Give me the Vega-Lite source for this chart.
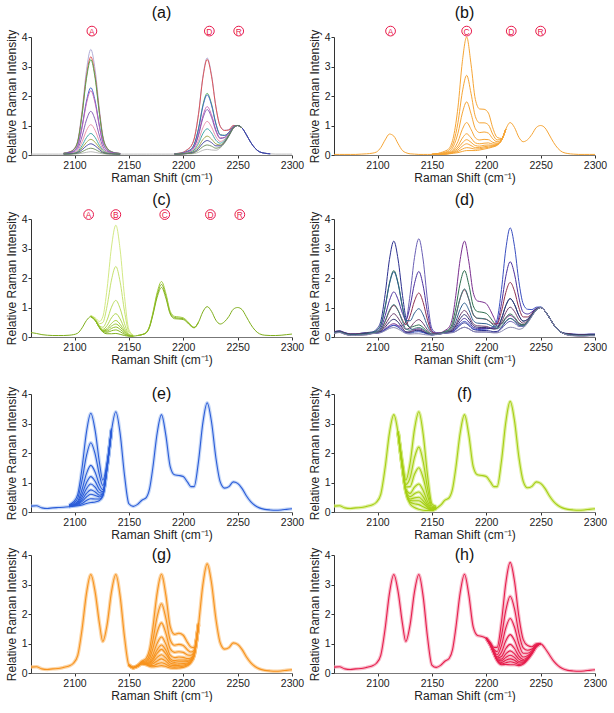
{
"$schema": "https://vega.github.io/schema/vega-lite/v6.json",
"padding": {"left": 5, "top": 5, "right": 2, "bottom": 0},
"background": "white",
"config": {
 "font": "Liberation Sans",
 "view": {"stroke": null},
 "title": {"fontSize": 16, "fontWeight": "normal", "color": "#111", "font": "Liberation Sans"},
 "axis": {"grid": false, "labelFontSize": 10.5, "titleFontSize": 12, "titleFontWeight": "normal", "labelColor": "#222", "titleColor": "#222", "domainColor": "#333", "tickColor": "#333", "tickSize": 3, "labelPadding": 1, "labelFont": "Liberation Sans", "titleFont": "Liberation Sans"},
 "axisX": {"titlePadding": 2, "labelPadding": 2, "labelFlush": false, "domainColor": "#777"},
 "axisY": {"titlePadding": 3}
},
"datasets": {
 "a": [
  {"x":2060,"a0":0.03},{"x":2065,"a0":0.03},{"x":2070,"a0":0.03},{"x":2075,"a0":0.03},{"x":2080,"a0":0.03},{"x":2085,"a0":0.03},
  {"x":2090,"a0":0.03,"a1":0.07,"a2":0.06,"a3":0.06,"a4":0.05,"a5":0.05,"a6":0.04,"a7":0.04,"a8":0.04,"a9":0.04,"a10":0.03,"a11":0.03},
  {"x":2095,"a0":0.03,"a1":0.10,"a2":0.10,"a3":0.09,"a4":0.08,"a5":0.07,"a6":0.06,"a7":0.05,"a8":0.04,"a9":0.04,"a10":0.04,"a11":0.03},
  {"x":2099,"a0":0.03,"a1":0.19,"a2":0.18,"a3":0.17,"a4":0.13,"a5":0.13,"a6":0.10,"a7":0.08,"a8":0.06,"a9":0.05,"a10":0.05,"a11":0.04},
  {"x":2103,"a0":0.04,"a1":0.49,"a2":0.46,"a3":0.45,"a4":0.32,"a5":0.31,"a6":0.22,"a7":0.16,"a8":0.12,"a9":0.10,"a10":0.08,"a11":0.06},
  {"x":2107,"a0":0.06,"a1":1.52,"a2":1.42,"a3":1.37,"a4":0.98,"a5":0.93,"a6":0.64,"a7":0.45,"a8":0.32,"a9":0.24,"a10":0.18,"a11":0.11},
  {"x":2111,"a0":0.09,"a1":2.87,"a2":2.67,"a3":2.59,"a4":1.83,"a5":1.75,"a6":1.19,"a7":0.83,"a8":0.59,"a9":0.43,"a10":0.31,"a11":0.19},
  {"x":2115,"a0":0.11,"a1":3.58,"a2":3.33,"a3":3.23,"a4":2.28,"a5":2.18,"a6":1.48,"a7":1.03,"a8":0.73,"a9":0.53,"a10":0.38,"a11":0.23},
  {"x":2119,"a0":0.09,"a1":2.87,"a2":2.67,"a3":2.59,"a4":1.83,"a5":1.75,"a6":1.19,"a7":0.83,"a8":0.59,"a9":0.43,"a10":0.31,"a11":0.19},
  {"x":2123,"a0":0.06,"a1":1.52,"a2":1.42,"a3":1.37,"a4":0.98,"a5":0.93,"a6":0.64,"a7":0.45,"a8":0.32,"a9":0.24,"a10":0.18,"a11":0.11},
  {"x":2126,"a0":0.04,"a1":0.67,"a2":0.62,"a3":0.61,"a4":0.44,"a5":0.42,"a6":0.29,"a7":0.21,"a8":0.16,"a9":0.12,"a10":0.09,"a11":0.07},
  {"x":2130,"a0":0.03,"a1":0.24,"a2":0.23,"a3":0.22,"a4":0.17,"a5":0.16,"a6":0.12,"a7":0.09,"a8":0.07,"a9":0.06,"a10":0.05,"a11":0.04},
  {"x":2134,"a0":0.03,"a1":0.12,"a2":0.11,"a3":0.11,"a4":0.09,"a5":0.08,"a6":0.07,"a7":0.06,"a8":0.05,"a9":0.04,"a10":0.04,"a11":0.04},
  {"x":2138,"a0":0.03,"a1":0.07,"a2":0.07,"a3":0.07,"a4":0.06,"a5":0.06,"a6":0.05,"a7":0.04,"a8":0.04,"a9":0.04,"a10":0.03,"a11":0.03},
  {"x":2142,"a0":0.03,"a1":0.05,"a2":0.05,"a3":0.05,"a4":0.05,"a5":0.05,"a6":0.04,"a7":0.04,"a8":0.03,"a9":0.03,"a10":0.03,"a11":0.03},
  {"x":2146,"a0":0.03},{"x":2150,"a0":0.03},{"x":2154,"a0":0.03},{"x":2158,"a0":0.03},{"x":2162,"a0":0.03},{"x":2166,"a0":0.03},{"x":2169,"a0":0.03},{"x":2172,"a0":0.03},{"x":2176,"a0":0.03},{"x":2180,"a0":0.03},{"x":2184,"a0":0.03},{"x":2188,"a0":0.03},
  {"x":2192,"a0":0.03,"a1":0.04,"a2":0.04,"a3":0.04,"a4":0.04,"a5":0.04,"a6":0.03,"a7":0.03,"a8":0.03,"a9":0.03,"a10":0.03,"a11":0.03},
  {"x":2196,"a0":0.03,"a1":0.06,"a2":0.06,"a3":0.05,"a4":0.05,"a5":0.04,"a6":0.04,"a7":0.04,"a8":0.04,"a9":0.03,"a10":0.03,"a11":0.03},
  {"x":2200,"a0":0.03,"a1":0.10,"a2":0.09,"a3":0.07,"a4":0.07,"a5":0.06,"a6":0.06,"a7":0.05,"a8":0.05,"a9":0.04,"a10":0.04,"a11":0.04},
  {"x":2204,"a0":0.04,"a1":0.19,"a2":0.19,"a3":0.13,"a4":0.13,"a5":0.11,"a6":0.11,"a7":0.09,"a8":0.07,"a9":0.06,"a10":0.05,"a11":0.05},
  {"x":2207,"a0":0.04,"a1":0.29,"a2":0.29,"a3":0.19,"a4":0.19,"a5":0.16,"a6":0.15,"a7":0.12,"a8":0.10,"a9":0.08,"a10":0.07,"a11":0.05},
  {"x":2210,"a0":0.05,"a1":0.55,"a2":0.54,"a3":0.36,"a4":0.35,"a5":0.29,"a6":0.27,"a7":0.21,"a8":0.17,"a9":0.13,"a10":0.10,"a11":0.08},
  {"x":2214,"a0":0.09,"a1":1.40,"a2":1.37,"a3":0.89,"a4":0.87,"a5":0.70,"a6":0.66,"a7":0.49,"a8":0.39,"a9":0.28,"a10":0.22,"a11":0.16},
  {"x":2218,"a0":0.16,"a1":2.64,"a2":2.60,"a3":1.68,"a4":1.64,"a5":1.32,"a6":1.24,"a7":0.92,"a8":0.72,"a9":0.52,"a10":0.40,"a11":0.28},
  {"x":2222,"a0":0.19,"a1":3.29,"a2":3.24,"a3":2.09,"a4":2.04,"a5":1.64,"a6":1.54,"a7":1.14,"a8":0.89,"a9":0.64,"a10":0.49,"a11":0.34},
  {"x":2226,"a0":0.17,"a1":2.72,"a2":2.67,"a3":1.73,"a4":1.69,"a5":1.36,"a6":1.28,"a7":0.95,"a8":0.75,"a9":0.54,"a10":0.42,"a11":0.30},
  {"x":2230,"a0":0.16,"a1":1.65,"a2":1.63,"a3":1.07,"a4":1.05,"a5":0.86,"a6":0.81,"a7":0.62,"a8":0.50,"a9":0.38,"a10":0.31,"a11":0.23},
  {"x":2234,"a0":0.24,"a1":0.98,"a2":0.97,"a3":0.69,"a4":0.68,"a5":0.58,"a6":0.56,"a7":0.46,"a8":0.40,"a9":0.34,"a10":0.31,"a11":0.27},
  {"x":2238,"a0":0.40,"a1":0.84,"a2":0.83,"a3":0.67,"a4":0.66,"a5":0.60,"a6":0.59,"a7":0.53,"a8":0.50,"a9":0.46,"a10":0.44,"a11":0.42},
  {"x":2242,"a0":0.64,"a1":0.86,"a2":0.85,"a3":0.77,"a4":0.77,"a5":0.74,"a6":0.74,"a7":0.71,"a8":0.69,"a9":0.67,"a10":0.66,"a11":0.65},
  {"x":2246,"a0":0.90,"a1":1.0,"a2":1.0,"a3":0.96,"a4":0.96,"a5":0.95,"a6":0.95,"a7":0.93,"a8":0.93,"a9":0.92,"a10":0.91,"a11":0.91},
  {"x":2250,"a0":1.0,"a1":1.0,"a2":1.0,"a3":1.0,"a4":1.0,"a5":1.0,"a6":1.0,"a7":1.0,"a8":1.0,"a9":1.0,"a10":1.0,"a11":1.0},
  {"x":2254,"a0":0.92,"a1":0.92,"a2":0.92,"a3":0.92,"a4":0.92,"a5":0.92,"a6":0.92,"a7":0.92,"a8":0.92,"a9":0.92,"a10":0.92,"a11":0.92},
  {"x":2258,"a0":0.69,"a1":0.69,"a4":0.69,"a10":0.69},{"x":2262,"a0":0.43,"a1":0.43,"a4":0.43,"a10":0.43},{"x":2266,"a0":0.23,"a1":0.23,"a4":0.23,"a10":0.23},{"x":2270,"a0":0.11,"a1":0.11,"a4":0.11,"a10":0.11},{"x":2275,"a0":0.06,"a1":0.06,"a4":0.06,"a10":0.06},{"x":2280,"a0":0.04,"a1":0.04,"a4":0.04,"a10":0.04},{"x":2285,"a0":0.03},{"x":2290,"a0":0.03},{"x":2295,"a0":0.03},{"x":2300,"a0":0.03}
 ],
 "b": [
  {"x":2060,"b0":0.02},{"x":2065,"b0":0.02},{"x":2070,"b0":0.02},{"x":2075,"b0":0.02},{"x":2080,"b0":0.02},{"x":2085,"b0":0.03},{"x":2090,"b0":0.04},{"x":2095,"b0":0.06},{"x":2099,"b0":0.10},{"x":2103,"b0":0.25},{"x":2107,"b0":0.51},{"x":2111,"b0":0.71},{"x":2115,"b0":0.64},{"x":2119,"b0":0.38},{"x":2123,"b0":0.15},{"x":2126,"b0":0.08},{"x":2130,"b0":0.04},{"x":2134,"b0":0.03},{"x":2138,"b0":0.02},{"x":2142,"b0":0.02},{"x":2146,"b0":0.02},
  {"x":2150,"b0":0.02,"b1":0.03,"b2":0.02,"b3":0.02,"b4":0.02,"b5":0.02,"b6":0.02,"b7":0.02,"b8":0.02},
  {"x":2154,"b0":0.02,"b1":0.04,"b2":0.04,"b3":0.03,"b4":0.03,"b5":0.02,"b6":0.02,"b7":0.02,"b8":0.02},
  {"x":2158,"b0":0.03,"b1":0.08,"b2":0.06,"b3":0.05,"b4":0.04,"b5":0.04,"b6":0.03,"b7":0.03,"b8":0.03},
  {"x":2162,"b0":0.03,"b1":0.13,"b2":0.09,"b3":0.07,"b4":0.05,"b5":0.04,"b6":0.04,"b7":0.04,"b8":0.03},
  {"x":2166,"b0":0.04,"b1":0.23,"b2":0.17,"b3":0.12,"b4":0.09,"b5":0.07,"b6":0.06,"b7":0.05,"b8":0.05},
  {"x":2170,"b0":0.06,"b1":0.64,"b2":0.44,"b3":0.31,"b4":0.20,"b5":0.15,"b6":0.12,"b7":0.09,"b8":0.08},
  {"x":2174,"b0":0.08,"b1":1.62,"b2":1.10,"b3":0.74,"b4":0.46,"b5":0.31,"b6":0.23,"b7":0.17,"b8":0.12},
  {"x":2178,"b0":0.12,"b1":3.16,"b2":2.13,"b3":1.42,"b4":0.87,"b5":0.57,"b6":0.41,"b7":0.30,"b8":0.20},
  {"x":2182,"b0":0.15,"b1":4.0,"b2":2.7,"b3":1.8,"b4":1.1,"b5":0.72,"b6":0.52,"b7":0.38,"b8":0.25},
  {"x":2186,"b0":0.15,"b1":3.08,"b2":2.09,"b3":1.40,"b4":0.87,"b5":0.58,"b6":0.43,"b7":0.32,"b8":0.23},
  {"x":2190,"b0":0.15,"b1":1.88,"b2":1.30,"b3":0.89,"b4":0.58,"b5":0.41,"b6":0.32,"b7":0.25,"b8":0.20},
  {"x":2194,"b0":0.17,"b1":1.56,"b2":1.09,"b3":0.76,"b4":0.51,"b5":0.38,"b6":0.30,"b7":0.25,"b8":0.21},
  {"x":2198,"b0":0.20,"b1":1.55,"b2":1.09,"b3":0.78,"b4":0.53,"b5":0.40,"b6":0.33,"b7":0.28,"b8":0.24},
  {"x":2202,"b0":0.23,"b1":1.42,"b2":1.02,"b3":0.74,"b4":0.52,"b5":0.41,"b6":0.34,"b7":0.30,"b8":0.26},
  {"x":2206,"b0":0.27,"b1":0.92,"b2":0.70,"b3":0.55,"b4":0.43,"b5":0.37,"b6":0.33,"b7":0.31,"b8":0.29},
  {"x":2210,"b0":0.33,"b1":0.60,"b2":0.51,"b3":0.45,"b4":0.40,"b5":0.37,"b6":0.36,"b7":0.35,"b8":0.34},
  {"x":2214,"b0":0.50,"b1":0.56,"b2":0.54,"b3":0.52,"b4":0.51,"b5":0.50,"b6":0.50,"b7":0.50,"b8":0.50},
  {"x":2218,"b0":0.88,"b1":0.88,"b2":0.88,"b3":0.88,"b4":0.88,"b5":0.88,"b6":0.88,"b7":0.88,"b8":0.88},
  {"x":2222,"b0":1.10},{"x":2226,"b0":0.93},{"x":2230,"b0":0.60},{"x":2234,"b0":0.45},{"x":2238,"b0":0.52},{"x":2242,"b0":0.70},{"x":2246,"b0":0.93},{"x":2250,"b0":1.0},{"x":2254,"b0":0.92},{"x":2258,"b0":0.68},{"x":2262,"b0":0.42},{"x":2266,"b0":0.22},{"x":2270,"b0":0.10},{"x":2275,"b0":0.05},{"x":2280,"b0":0.03},{"x":2285,"b0":0.02},{"x":2290,"b0":0.02},{"x":2295,"b0":0.02},{"x":2300,"b0":0.02}
 ],
 "c": [
  {"x":2060,"c0":0.15},{"x":2065,"c0":0.12},{"x":2070,"c0":0.08},{"x":2075,"c0":0.06},{"x":2080,"c0":0.05},{"x":2085,"c0":0.05},{"x":2090,"c0":0.05},{"x":2095,"c0":0.06},{"x":2099,"c0":0.08},{"x":2103,"c0":0.13},{"x":2107,"c0":0.31},{"x":2111,"c0":0.56},
  {"x":2115,"c0":0.69,"c1":0.73,"c2":0.72,"c3":0.70,"c4":0.70,"c5":0.70,"c6":0.69,"c7":0.69,"c8":0.69},
  {"x":2119,"c0":0.56,"c1":0.65,"c2":0.62,"c3":0.59,"c4":0.58,"c5":0.57,"c6":0.57,"c7":0.57,"c8":0.56},
  {"x":2123,"c0":0.31,"c1":0.53,"c2":0.45,"c3":0.38,"c4":0.35,"c5":0.34,"c6":0.33,"c7":0.32,"c8":0.32},
  {"x":2126,"c0":0.17,"c1":0.68,"c2":0.49,"c3":0.33,"c4":0.26,"c5":0.23,"c6":0.21,"c7":0.20,"c8":0.19},
  {"x":2130,"c0":0.11,"c1":1.65,"c2":1.06,"c3":0.58,"c4":0.39,"c5":0.29,"c6":0.24,"c7":0.20,"c8":0.16},
  {"x":2134,"c0":0.11,"c1":3.05,"c2":1.93,"c3":1.01,"c4":0.65,"c5":0.46,"c6":0.37,"c7":0.29,"c8":0.21},
  {"x":2138,"c0":0.12,"c1":3.79,"c2":2.39,"c3":1.24,"c4":0.79,"c5":0.56,"c6":0.44,"c7":0.34,"c8":0.24},
  {"x":2142,"c0":0.09,"c1":2.95,"c2":1.86,"c3":0.96,"c4":0.61,"c5":0.43,"c6":0.34,"c7":0.26,"c8":0.18},
  {"x":2146,"c0":0.05,"c1":1.37,"c2":0.87,"c3":0.45,"c4":0.29,"c5":0.21,"c6":0.17,"c7":0.13,"c8":0.09},
  {"x":2150,"c0":0.03,"c1":0.25,"c2":0.17,"c3":0.10,"c4":0.07,"c5":0.06,"c6":0.05,"c7":0.04,"c8":0.04},
  {"x":2154,"c0":0.03,"c1":0.07,"c2":0.05,"c3":0.04,"c4":0.03,"c5":0.03,"c6":0.03,"c7":0.03,"c8":0.03},
  {"x":2158,"c0":0.05,"c9":0.05,"c10":0.05},
  {"x":2162,"c0":0.08,"c9":0.08,"c10":0.08},
  {"x":2166,"c0":0.15,"c9":0.16,"c10":0.14},
  {"x":2169,"c0":0.35,"c9":0.37,"c10":0.33},
  {"x":2172,"c0":0.77,"c9":0.81,"c10":0.73},
  {"x":2176,"c0":1.43,"c9":1.51,"c10":1.35},
  {"x":2180,"c0":1.78,"c9":1.88,"c10":1.68},
  {"x":2184,"c0":1.40,"c9":1.48,"c10":1.32},
  {"x":2188,"c0":0.82,"c9":0.87,"c10":0.78},
  {"x":2192,"c0":0.66,"c9":0.70,"c10":0.62},
  {"x":2196,"c0":0.64,"c9":0.68,"c10":0.61},
  {"x":2200,"c0":0.62,"c9":0.65,"c10":0.59},
  {"x":2204,"c0":0.50,"c9":0.53,"c10":0.48},
  {"x":2207,"c0":0.39,"c9":0.41,"c10":0.37},
  {"x":2210,"c0":0.32,"c9":0.33,"c10":0.31},
  {"x":2214,"c0":0.50,"c9":0.50,"c10":0.50},
  {"x":2218,"c0":0.85},{"x":2222,"c0":1.03},{"x":2226,"c0":0.87},{"x":2230,"c0":0.57},{"x":2234,"c0":0.44},{"x":2238,"c0":0.52},{"x":2242,"c0":0.70},{"x":2246,"c0":0.94},{"x":2250,"c0":1.0},{"x":2254,"c0":0.93},{"x":2258,"c0":0.69},{"x":2262,"c0":0.43},{"x":2266,"c0":0.23},{"x":2270,"c0":0.11},{"x":2275,"c0":0.06},{"x":2280,"c0":0.05},{"x":2285,"c0":0.05},{"x":2290,"c0":0.06},{"x":2295,"c0":0.08},{"x":2300,"c0":0.10}
 ],
 "d": [
  {"x":2060,"d1":0.17,"d2":0.15,"d3":0.13,"d4":0.18,"d5":0.16,"d6":0.14,"d7":0.17,"d8":0.15,"d9":0.13,"d10":0.16,"d11":0.14,"d12":0.12},
  {"x":2065,"d1":0.20,"d2":0.18,"d3":0.16,"d4":0.21,"d5":0.19,"d6":0.17,"d7":0.20,"d8":0.18,"d9":0.16,"d10":0.19,"d11":0.17,"d12":0.15},
  {"x":2070,"d1":0.14,"d2":0.12,"d3":0.10,"d4":0.15,"d5":0.13,"d6":0.11,"d7":0.14,"d8":0.12,"d9":0.10,"d10":0.13,"d11":0.11,"d12":0.09},
  {"x":2075,"d1":0.10,"d2":0.08,"d3":0.06,"d4":0.11,"d5":0.09,"d6":0.07,"d7":0.10,"d8":0.08,"d9":0.06,"d10":0.09,"d11":0.07,"d12":0.05},
  {"x":2080,"d1":0.10,"d2":0.08,"d3":0.06,"d4":0.11,"d5":0.09,"d6":0.07,"d7":0.10,"d8":0.08,"d9":0.06,"d10":0.09,"d11":0.07,"d12":0.05},
  {"x":2085,"d1":0.13,"d2":0.09,"d3":0.07,"d4":0.12,"d5":0.11,"d6":0.09,"d7":0.12,"d8":0.10,"d9":0.07,"d10":0.10,"d11":0.08,"d12":0.06},
  {"x":2090,"d1":0.15,"d2":0.10,"d3":0.08,"d4":0.13,"d5":0.13,"d6":0.10,"d7":0.13,"d8":0.12,"d9":0.09,"d10":0.12,"d11":0.10,"d12":0.07},
  {"x":2095,"d1":0.17,"d2":0.12,"d3":0.12,"d4":0.12,"d5":0.15,"d6":0.14,"d7":0.13,"d8":0.15,"d9":0.12,"d10":0.12,"d11":0.13,"d12":0.11},
  {"x":2099,"d1":0.26,"d2":0.13,"d3":0.14,"d4":0.13,"d5":0.22,"d6":0.18,"d7":0.16,"d8":0.21,"d9":0.15,"d10":0.14,"d11":0.17,"d12":0.13},
  {"x":2103,"d1":0.53,"d2":0.15,"d3":0.17,"d4":0.16,"d5":0.40,"d6":0.30,"d7":0.24,"d8":0.39,"d9":0.21,"d10":0.19,"d11":0.25,"d12":0.15},
  {"x":2107,"d1":1.44,"d2":0.24,"d3":0.27,"d4":0.25,"d5":1.02,"d6":0.72,"d7":0.52,"d8":1.00,"d9":0.41,"d10":0.33,"d11":0.54,"d12":0.21},
  {"x":2111,"d1":2.63,"d2":0.33,"d3":0.39,"d4":0.35,"d5":1.83,"d6":1.24,"d7":0.88,"d8":1.80,"d9":0.65,"d10":0.51,"d11":0.91,"d12":0.29},
  {"x":2115,"d1":3.25,"d2":0.39,"d3":0.45,"d4":0.40,"d5":2.25,"d6":1.53,"d7":1.07,"d8":2.21,"d9":0.79,"d10":0.60,"d11":1.10,"d12":0.32},
  {"x":2119,"d1":2.61,"d2":0.37,"d3":0.38,"d4":0.33,"d5":1.82,"d6":1.26,"d7":0.89,"d8":1.79,"d9":0.64,"d10":0.50,"d11":0.90,"d12":0.27},
  {"x":2123,"d1":1.41,"d2":0.38,"d3":0.24,"d4":0.22,"d5":1.00,"d6":0.80,"d7":0.57,"d8":1.01,"d9":0.40,"d10":0.30,"d11":0.52,"d12":0.18},
  {"x":2126,"d1":0.66,"d2":0.51,"d3":0.16,"d4":0.14,"d5":0.50,"d6":0.58,"d7":0.42,"d8":0.56,"d9":0.26,"d10":0.18,"d11":0.28,"d12":0.12},
  {"x":2130,"d1":0.30,"d2":1.45,"d3":0.18,"d4":0.13,"d5":0.33,"d6":1.05,"d7":0.72,"d8":0.55,"d9":0.32,"d10":0.16,"d11":0.23,"d12":0.10},
  {"x":2134,"d1":0.24,"d2":2.69,"d3":0.25,"d4":0.17,"d5":0.37,"d6":1.81,"d7":1.22,"d8":0.81,"d9":0.50,"d10":0.21,"d11":0.29,"d12":0.11},
  {"x":2138,"d1":0.22,"d2":3.33,"d3":0.28,"d4":0.18,"d5":0.41,"d6":2.22,"d7":1.49,"d8":0.96,"d9":0.59,"d10":0.24,"d11":0.32,"d12":0.11},
  {"x":2142,"d1":0.17,"d2":2.61,"d3":0.23,"d4":0.15,"d5":0.32,"d6":1.73,"d7":1.17,"d8":0.75,"d9":0.46,"d10":0.19,"d11":0.26,"d12":0.09},
  {"x":2146,"d1":0.11,"d2":1.23,"d3":0.14,"d4":0.10,"d5":0.18,"d6":0.83,"d7":0.57,"d8":0.37,"d9":0.24,"d10":0.12,"d11":0.15,"d12":0.07},
  {"x":2150,"d1":0.07,"d2":0.29,"d3":0.09,"d4":0.07,"d5":0.09,"d6":0.21,"d7":0.17,"d8":0.13,"d9":0.10,"d10":0.08,"d11":0.09,"d12":0.07},
  {"x":2154,"d1":0.09,"d2":0.15,"d3":0.10,"d4":0.09,"d5":0.10,"d6":0.13,"d7":0.12,"d8":0.10,"d9":0.10,"d10":0.09,"d11":0.09,"d12":0.08},
  {"x":2158,"d1":0.11,"d2":0.14,"d3":0.14,"d4":0.11,"d5":0.13,"d6":0.13,"d7":0.13,"d8":0.12,"d9":0.11,"d10":0.11,"d11":0.12,"d12":0.10},
  {"x":2162,"d1":0.13,"d2":0.13,"d3":0.22,"d4":0.13,"d5":0.19,"d6":0.14,"d7":0.17,"d8":0.15,"d9":0.15,"d10":0.14,"d11":0.17,"d12":0.13},
  {"x":2166,"d1":0.15,"d2":0.14,"d3":0.34,"d4":0.15,"d5":0.27,"d6":0.16,"d7":0.23,"d8":0.20,"d9":0.18,"d10":0.17,"d11":0.23,"d12":0.14},
  {"x":2169,"d1":0.17,"d2":0.15,"d3":0.67,"d4":0.18,"d5":0.49,"d6":0.20,"d7":0.37,"d8":0.29,"d9":0.25,"d10":0.22,"d11":0.38,"d12":0.15},
  {"x":2172,"d1":0.25,"d2":0.19,"d3":1.41,"d4":0.27,"d5":0.99,"d6":0.31,"d7":0.72,"d8":0.53,"d9":0.42,"d10":0.37,"d11":0.73,"d12":0.19},
  {"x":2176,"d1":0.40,"d2":0.28,"d3":2.62,"d4":0.44,"d5":1.82,"d6":0.52,"d7":1.30,"d8":0.94,"d9":0.74,"d10":0.62,"d11":1.32,"d12":0.28},
  {"x":2180,"d1":0.48,"d2":0.33,"d3":3.25,"d4":0.53,"d5":2.25,"d6":0.63,"d7":1.60,"d8":1.15,"d9":0.90,"d10":0.76,"d11":1.63,"d12":0.33},
  {"x":2184,"d1":0.39,"d2":0.28,"d3":2.55,"d4":0.43,"d5":1.77,"d6":0.51,"d7":1.27,"d8":0.92,"d9":0.72,"d10":0.61,"d11":1.29,"d12":0.28},
  {"x":2188,"d1":0.26,"d2":0.19,"d3":1.51,"d4":0.28,"d5":1.06,"d6":0.33,"d7":0.76,"d8":0.56,"d9":0.45,"d10":0.39,"d11":0.78,"d12":0.19},
  {"x":2192,"d1":0.23,"d2":0.17,"d3":1.22,"d4":0.25,"d5":0.86,"d6":0.29,"d7":0.63,"d8":0.47,"d9":0.38,"d10":0.33,"d11":0.64,"d12":0.17},
  {"x":2196,"d1":0.22,"d2":0.17,"d3":1.19,"d4":0.26,"d5":0.84,"d6":0.29,"d7":0.62,"d8":0.46,"d9":0.37,"d10":0.32,"d11":0.63,"d12":0.17},
  {"x":2200,"d1":0.22,"d2":0.17,"d3":1.13,"d4":0.27,"d5":0.80,"d6":0.29,"d7":0.60,"d8":0.45,"d9":0.36,"d10":0.32,"d11":0.60,"d12":0.17},
  {"x":2204,"d1":0.20,"d2":0.16,"d3":0.89,"d4":0.30,"d5":0.64,"d6":0.29,"d7":0.51,"d8":0.39,"d9":0.31,"d10":0.29,"d11":0.49,"d12":0.15},
  {"x":2207,"d1":0.18,"d2":0.15,"d3":0.66,"d4":0.37,"d5":0.49,"d6":0.32,"d7":0.44,"d8":0.34,"d9":0.28,"d10":0.27,"d11":0.38,"d12":0.14},
  {"x":2210,"d1":0.19,"d2":0.16,"d3":0.45,"d4":0.59,"d5":0.37,"d6":0.45,"d7":0.45,"d8":0.34,"d9":0.28,"d10":0.30,"d11":0.29,"d12":0.14},
  {"x":2214,"d1":0.32,"d2":0.28,"d3":0.45,"d4":1.61,"d5":0.44,"d6":1.13,"d7":0.87,"d8":0.62,"d9":0.50,"d10":0.61,"d11":0.36,"d12":0.19},
  {"x":2218,"d1":0.52,"d2":0.44,"d3":0.63,"d4":2.98,"d5":0.66,"d6":2.06,"d7":1.51,"d8":1.07,"d9":0.83,"d10":1.06,"d11":0.54,"d12":0.28},
  {"x":2222,"d1":0.63,"d2":0.53,"d3":0.73,"d4":3.70,"d5":0.78,"d6":2.55,"d7":1.85,"d8":1.30,"d9":1.01,"d10":1.30,"d11":0.63,"d12":0.33},
  {"x":2226,"d1":0.55,"d2":0.47,"d3":0.63,"d4":3.07,"d5":0.67,"d6":2.13,"d7":1.55,"d8":1.10,"d9":0.86,"d10":1.10,"d11":0.55,"d12":0.31},
  {"x":2230,"d1":0.40,"d2":0.36,"d3":0.45,"d4":1.88,"d5":0.48,"d6":1.33,"d7":0.99,"d8":0.73,"d9":0.59,"d10":0.73,"d11":0.40,"d12":0.26},
  {"x":2234,"d1":0.38,"d2":0.36,"d3":0.41,"d4":1.12,"d5":0.42,"d6":0.84,"d7":0.68,"d8":0.54,"d9":0.47,"d10":0.54,"d11":0.38,"d12":0.31},
  {"x":2238,"d1":0.51,"d2":0.49,"d3":0.52,"d4":0.94,"d5":0.53,"d6":0.78,"d7":0.68,"d8":0.60,"d9":0.56,"d10":0.60,"d11":0.51,"d12":0.47},
  {"x":2242,"d1":0.72,"d2":0.71,"d3":0.73,"d4":0.93,"d5":0.73,"d6":0.85,"d7":0.80,"d8":0.77,"d9":0.75,"d10":0.77,"d11":0.72,"d12":0.70},
  {"x":2246,"d1":0.92,"d2":0.91,"d3":0.92,"d4":1.01,"d5":0.92,"d6":0.97,"d7":0.95,"d8":0.94,"d9":0.93,"d10":0.94,"d11":0.92,"d12":0.91},
  {"x":2250,"d1":1.0,"d2":1.0,"d3":1.0,"d4":1.02,"d5":1.0,"d6":1.0,"d7":1.0,"d8":1.0,"d9":1.0,"d10":1.0,"d11":1.0,"d12":1.0},
  {"x":2254,"d1":0.88,"d2":0.88,"d3":0.88,"d4":0.88,"d5":0.88,"d6":0.88,"d7":0.88,"d8":0.88,"d9":0.88,"d10":0.88,"d11":0.88,"d12":0.88},
  {"x":2258,"d1":0.66,"d2":0.66,"d3":0.66,"d4":0.66,"d5":0.66,"d6":0.66,"d7":0.66,"d8":0.66,"d9":0.66,"d10":0.66,"d11":0.66,"d12":0.66},
  {"x":2262,"d1":0.42,"d2":0.42,"d3":0.42,"d4":0.42,"d5":0.42,"d6":0.42,"d7":0.42,"d8":0.42,"d9":0.42,"d10":0.42,"d11":0.42,"d12":0.42},
  {"x":2266,"d1":0.24,"d2":0.24,"d3":0.24,"d4":0.24,"d5":0.24,"d6":0.24,"d7":0.24,"d8":0.24,"d9":0.24,"d10":0.24,"d11":0.24,"d12":0.24},
  {"x":2270,"d1":0.14,"d2":0.14,"d3":0.14,"d4":0.14,"d5":0.14,"d6":0.14,"d7":0.14,"d8":0.14,"d9":0.14,"d10":0.14,"d11":0.14,"d12":0.14},
  {"x":2275,"d1":0.11,"d2":0.09,"d3":0.07,"d4":0.12,"d5":0.10,"d6":0.08,"d7":0.11,"d8":0.09,"d9":0.07,"d10":0.10,"d11":0.08,"d12":0.06},
  {"x":2280,"d1":0.09,"d2":0.07,"d3":0.05,"d4":0.10,"d5":0.08,"d6":0.06,"d7":0.09,"d8":0.07,"d9":0.05,"d10":0.08,"d11":0.06,"d12":0.04},
  {"x":2285,"d1":0.08,"d2":0.06,"d3":0.04,"d4":0.09,"d5":0.07,"d6":0.05,"d7":0.08,"d8":0.06,"d9":0.04,"d10":0.07,"d11":0.05,"d12":0.03},
  {"x":2290,"d1":0.08,"d2":0.06,"d3":0.04,"d4":0.09,"d5":0.07,"d6":0.05,"d7":0.08,"d8":0.06,"d9":0.04,"d10":0.07,"d11":0.05,"d12":0.03},
  {"x":2295,"d1":0.09,"d2":0.07,"d3":0.05,"d4":0.10,"d5":0.08,"d6":0.06,"d7":0.09,"d8":0.07,"d9":0.05,"d10":0.08,"d11":0.06,"d12":0.04},
  {"x":2300,"d1":0.09,"d2":0.07,"d3":0.05,"d4":0.10,"d5":0.08,"d6":0.06,"d7":0.09,"d8":0.07,"d9":0.05,"d10":0.08,"d11":0.06,"d12":0.04}
 ],
 "e": [
  {"x":2060,"e0":0.20},{"x":2065,"e0":0.21},{"x":2070,"e0":0.14},{"x":2075,"e0":0.12},{"x":2080,"e0":0.14},{"x":2085,"e0":0.15},{"x":2090,"e0":0.16},
  {"x":2095,"e0":0.18,"e1":0.24,"e2":0.22,"e3":0.21,"e4":0.20,"e5":0.19,"e6":0.19,"e7":0.19,"e8":0.18},
  {"x":2099,"e0":0.20,"e1":0.34,"e2":0.29,"e3":0.26,"e4":0.24,"e5":0.23,"e6":0.22,"e7":0.21,"e8":0.21},
  {"x":2103,"e0":0.21,"e1":0.60,"e2":0.47,"e3":0.37,"e4":0.32,"e5":0.29,"e6":0.27,"e7":0.25,"e8":0.23},
  {"x":2107,"e0":0.24,"e1":1.51,"e2":1.09,"e3":0.77,"e4":0.61,"e5":0.50,"e6":0.42,"e7":0.36,"e8":0.29},
  {"x":2111,"e0":0.29,"e1":2.71,"e2":1.91,"e3":1.30,"e4":0.99,"e5":0.79,"e6":0.63,"e7":0.51,"e8":0.39},
  {"x":2115,"e0":0.32,"e1":3.35,"e2":2.35,"e3":1.58,"e4":1.20,"e5":0.95,"e6":0.75,"e7":0.60,"e8":0.45},
  {"x":2119,"e0":0.34,"e1":2.76,"e2":1.96,"e3":1.35,"e4":1.04,"e5":0.84,"e6":0.68,"e7":0.56,"e8":0.44},
  {"x":2123,"e0":0.39,"e1":1.66,"e2":1.24,"e3":0.92,"e4":0.76,"e5":0.65,"e6":0.57,"e7":0.51,"e8":0.44},
  {"x":2126,"e0":0.53,"e1":1.08,"e2":0.90,"e3":0.76,"e4":0.69,"e5":0.64,"e6":0.61,"e7":0.58,"e8":0.55},
  {"x":2130,"e0":1.50,"e1":1.68,"e2":1.62,"e3":1.58,"e4":1.55,"e5":1.54,"e6":1.53,"e7":1.52,"e8":1.51},
  {"x":2134,"e0":2.75,"e1":2.83,"e2":2.80,"e3":2.78,"e4":2.77,"e5":2.77,"e6":2.76,"e7":2.76,"e8":2.75},
  {"x":2138,"e0":3.40},{"x":2142,"e0":2.65},{"x":2146,"e0":1.24},{"x":2150,"e0":0.28},{"x":2154,"e0":0.19},{"x":2158,"e0":0.26},{"x":2162,"e0":0.40},{"x":2166,"e0":0.49},{"x":2169,"e0":0.78},{"x":2172,"e0":1.49},{"x":2176,"e0":2.67},{"x":2180,"e0":3.30},{"x":2184,"e0":2.60},{"x":2188,"e0":1.54},{"x":2192,"e0":1.26},{"x":2196,"e0":1.24},{"x":2200,"e0":1.20},{"x":2204,"e0":1.01},{"x":2207,"e0":0.86},{"x":2210,"e0":0.86},{"x":2214,"e0":1.71},{"x":2218,"e0":3.01},{"x":2222,"e0":3.70},{"x":2226,"e0":3.05},{"x":2230,"e0":1.84},{"x":2234,"e0":1.02},{"x":2238,"e0":0.81},{"x":2242,"e0":0.86},{"x":2246,"e0":1.02},{"x":2250,"e0":0.97},{"x":2254,"e0":0.80},{"x":2258,"e0":0.55},{"x":2262,"e0":0.35},{"x":2266,"e0":0.22},{"x":2270,"e0":0.14},{"x":2275,"e0":0.09},{"x":2280,"e0":0.07},{"x":2285,"e0":0.06},{"x":2290,"e0":0.07},{"x":2295,"e0":0.09},{"x":2300,"e0":0.11}
 ],
 "f": [
  {"x":2060,"f0":0.20},{"x":2065,"f0":0.21},{"x":2070,"f0":0.14},{"x":2075,"f0":0.12},{"x":2080,"f0":0.14},{"x":2085,"f0":0.15},{"x":2090,"f0":0.19},{"x":2095,"f0":0.24},{"x":2099,"f0":0.33},{"x":2103,"f0":0.60},{"x":2107,"f0":1.50},{"x":2111,"f0":2.68},{"x":2115,"f0":3.30},
  {"x":2119,"f0":2.66,"f1":2.74,"f2":2.71,"f3":2.70,"f4":2.68,"f5":2.67,"f6":2.67,"f7":2.67,"f8":2.66},
  {"x":2123,"f0":1.46,"f1":1.66,"f2":1.59,"f3":1.54,"f4":1.51,"f5":1.50,"f6":1.48,"f7":1.48,"f8":1.47},
  {"x":2126,"f0":0.68,"f1":1.08,"f2":0.93,"f3":0.85,"f4":0.78,"f5":0.75,"f6":0.73,"f7":0.71,"f8":0.70},
  {"x":2130,"f0":0.27,"f1":1.66,"f2":1.16,"f3":0.86,"f4":0.63,"f5":0.52,"f6":0.44,"f7":0.39,"f8":0.34},
  {"x":2134,"f0":0.15,"f1":2.80,"f2":1.84,"f3":1.28,"f4":0.84,"f5":0.62,"f6":0.48,"f7":0.38,"f8":0.28},
  {"x":2138,"f0":0.09,"f1":3.40,"f2":2.20,"f3":1.50,"f4":0.95,"f5":0.68,"f6":0.50,"f7":0.38,"f8":0.25},
  {"x":2142,"f0":0.06,"f1":2.64,"f2":1.71,"f3":1.16,"f4":0.73,"f5":0.52,"f6":0.38,"f7":0.29,"f8":0.18},
  {"x":2146,"f0":0.05,"f1":1.24,"f2":0.81,"f3":0.56,"f4":0.36,"f5":0.26,"f6":0.20,"f7":0.15,"f8":0.11},
  {"x":2150,"f0":0.05,"f1":0.28,"f2":0.20,"f3":0.15,"f4":0.11,"f5":0.09,"f6":0.08,"f7":0.07,"f8":0.06},
  {"x":2154,"f0":0.12,"f1":0.19,"f2":0.16,"f3":0.15,"f4":0.14,"f5":0.13,"f6":0.13,"f7":0.13,"f8":0.12},
  {"x":2158,"f0":0.23},{"x":2162,"f0":0.40},{"x":2166,"f0":0.49},{"x":2169,"f0":0.78},{"x":2172,"f0":1.49},{"x":2176,"f0":2.67},{"x":2180,"f0":3.30},{"x":2184,"f0":2.60},{"x":2188,"f0":1.54},{"x":2192,"f0":1.26},{"x":2196,"f0":1.24},{"x":2200,"f0":1.20},{"x":2204,"f0":1.01},{"x":2207,"f0":0.86},{"x":2210,"f0":0.86},{"x":2214,"f0":1.73},{"x":2218,"f0":3.05},{"x":2222,"f0":3.75},{"x":2226,"f0":3.09},{"x":2230,"f0":1.86},{"x":2234,"f0":1.04},{"x":2238,"f0":0.82},{"x":2242,"f0":0.87},{"x":2246,"f0":1.02},{"x":2250,"f0":0.97},{"x":2254,"f0":0.80},{"x":2258,"f0":0.55},{"x":2262,"f0":0.35},{"x":2266,"f0":0.22},{"x":2270,"f0":0.14},{"x":2275,"f0":0.09},{"x":2280,"f0":0.07},{"x":2285,"f0":0.06},{"x":2290,"f0":0.07},{"x":2295,"f0":0.09},{"x":2300,"f0":0.11}
 ],
 "g": [
  {"x":2060,"g0":0.20},{"x":2065,"g0":0.21},{"x":2070,"g0":0.14},{"x":2075,"g0":0.12},{"x":2080,"g0":0.14},{"x":2085,"g0":0.15},{"x":2090,"g0":0.19},{"x":2095,"g0":0.24},{"x":2099,"g0":0.33},{"x":2103,"g0":0.60},{"x":2107,"g0":1.50},{"x":2111,"g0":2.70},{"x":2115,"g0":3.34},{"x":2119,"g0":2.74},{"x":2123,"g0":1.66},{"x":2126,"g0":1.07},{"x":2130,"g0":1.64},{"x":2134,"g0":2.75},{"x":2138,"g0":3.34},{"x":2142,"g0":2.59},{"x":2146,"g0":1.21},
  {"x":2150,"g0":0.27,"g1":0.28,"g2":0.27,"g3":0.27,"g4":0.27,"g5":0.27,"g6":0.27,"g7":0.27,"g8":0.27,"g9":0.27},
  {"x":2154,"g0":0.18,"g1":0.20,"g2":0.19,"g3":0.18,"g4":0.18,"g5":0.18,"g6":0.18,"g7":0.18,"g8":0.18,"g9":0.18},
  {"x":2158,"g0":0.23,"g1":0.26,"g2":0.25,"g3":0.24,"g4":0.24,"g5":0.24,"g6":0.24,"g7":0.23,"g8":0.23,"g9":0.23},
  {"x":2162,"g0":0.31,"g1":0.40,"g2":0.37,"g3":0.35,"g4":0.34,"g5":0.33,"g6":0.33,"g7":0.32,"g8":0.32,"g9":0.31},
  {"x":2166,"g0":0.28,"g1":0.50,"g2":0.43,"g3":0.38,"g4":0.35,"g5":0.33,"g6":0.32,"g7":0.31,"g8":0.30,"g9":0.29},
  {"x":2169,"g0":0.23,"g1":0.79,"g2":0.61,"g3":0.49,"g4":0.40,"g5":0.36,"g6":0.33,"g7":0.30,"g8":0.27,"g9":0.25},
  {"x":2172,"g0":0.21,"g1":1.51,"g2":1.09,"g3":0.82,"g4":0.62,"g5":0.50,"g6":0.44,"g7":0.37,"g8":0.31,"g9":0.25},
  {"x":2176,"g0":0.23,"g1":2.71,"g2":1.91,"g3":1.39,"g4":1.01,"g5":0.79,"g6":0.67,"g7":0.53,"g8":0.41,"g9":0.31},
  {"x":2180,"g0":0.25,"g1":3.35,"g2":2.35,"g3":1.70,"g4":1.22,"g5":0.95,"g6":0.80,"g7":0.62,"g8":0.48,"g9":0.35},
  {"x":2184,"g0":0.22,"g1":2.64,"g2":1.86,"g3":1.35,"g4":0.98,"g5":0.77,"g6":0.65,"g7":0.51,"g8":0.40,"g9":0.30},
  {"x":2188,"g0":0.17,"g1":1.57,"g2":1.12,"g3":0.82,"g4":0.61,"g5":0.49,"g6":0.42,"g7":0.34,"g8":0.27,"g9":0.22},
  {"x":2192,"g0":0.16,"g1":1.31,"g2":0.94,"g3":0.70,"g4":0.52,"g5":0.42,"g6":0.36,"g7":0.30,"g8":0.25,"g9":0.20},
  {"x":2196,"g0":0.17,"g1":1.35,"g2":0.97,"g3":0.72,"g4":0.54,"g5":0.44,"g6":0.38,"g7":0.31,"g8":0.26,"g9":0.21},
  {"x":2200,"g0":0.19,"g1":1.28,"g2":0.93,"g3":0.70,"g4":0.53,"g5":0.44,"g6":0.38,"g7":0.32,"g8":0.27,"g9":0.23},
  {"x":2204,"g0":0.25,"g1":1.03,"g2":0.78,"g3":0.61,"g4":0.49,"g5":0.43,"g6":0.39,"g7":0.34,"g8":0.31,"g9":0.28},
  {"x":2207,"g0":0.35,"g1":0.88,"g2":0.71,"g3":0.60,"g4":0.51,"g5":0.47,"g6":0.44,"g7":0.41,"g8":0.39,"g9":0.37},
  {"x":2210,"g0":0.58,"g1":0.86,"g2":0.77,"g3":0.71,"g4":0.67,"g5":0.64,"g6":0.63,"g7":0.61,"g8":0.60,"g9":0.59},
  {"x":2214,"g0":1.61,"g1":1.70,"g2":1.67,"g3":1.65,"g4":1.64,"g5":1.63,"g6":1.63,"g7":1.62,"g8":1.62,"g9":1.61},
  {"x":2218,"g0":2.98},{"x":2222,"g0":3.70},{"x":2226,"g0":3.05},{"x":2230,"g0":1.84},{"x":2234,"g0":1.02},{"x":2238,"g0":0.81},{"x":2242,"g0":0.86},{"x":2246,"g0":1.02},{"x":2250,"g0":0.97},{"x":2254,"g0":0.80},{"x":2258,"g0":0.55},{"x":2262,"g0":0.35},{"x":2266,"g0":0.22},{"x":2270,"g0":0.14},{"x":2275,"g0":0.09},{"x":2280,"g0":0.07},{"x":2285,"g0":0.06},{"x":2290,"g0":0.07},{"x":2295,"g0":0.09},{"x":2300,"g0":0.11}
 ],
 "h": [
  {"x":2060,"h0":0.20},{"x":2065,"h0":0.21},{"x":2070,"h0":0.14},{"x":2075,"h0":0.12},{"x":2080,"h0":0.14},{"x":2085,"h0":0.15},{"x":2090,"h0":0.19},{"x":2095,"h0":0.24},{"x":2099,"h0":0.33},{"x":2103,"h0":0.60},{"x":2107,"h0":1.50},{"x":2111,"h0":2.70},{"x":2115,"h0":3.34},{"x":2119,"h0":2.74},{"x":2123,"h0":1.66},{"x":2126,"h0":1.07},{"x":2130,"h0":1.64},{"x":2134,"h0":2.75},{"x":2138,"h0":3.34},{"x":2142,"h0":2.59},{"x":2146,"h0":1.21},{"x":2150,"h0":0.27},{"x":2154,"h0":0.19},{"x":2158,"h0":0.26},{"x":2162,"h0":0.40},{"x":2166,"h0":0.50},{"x":2169,"h0":0.79},{"x":2172,"h0":1.52},{"x":2176,"h0":2.71},{"x":2180,"h0":3.35},{"x":2184,"h0":2.64},{"x":2188,"h0":1.56},{"x":2192,"h0":1.27},{"x":2196,"h0":1.24},
  {"x":2200,"h0":1.17,"h1":1.20,"h2":1.19,"h3":1.19,"h4":1.18,"h5":1.18,"h6":1.17,"h7":1.17,"h8":1.17,"h9":1.17},
  {"x":2204,"h0":0.92,"h1":1.02,"h2":0.99,"h3":0.97,"h4":0.95,"h5":0.94,"h6":0.93,"h7":0.93,"h8":0.93,"h9":0.92},
  {"x":2207,"h0":0.66,"h1":0.87,"h2":0.80,"h3":0.75,"h4":0.72,"h5":0.70,"h6":0.69,"h7":0.68,"h8":0.67,"h9":0.66},
  {"x":2210,"h0":0.42,"h1":0.87,"h2":0.72,"h3":0.62,"h4":0.55,"h5":0.51,"h6":0.48,"h7":0.46,"h8":0.44,"h9":0.43},
  {"x":2214,"h0":0.28,"h1":1.73,"h2":1.25,"h3":0.93,"h4":0.70,"h5":0.56,"h6":0.47,"h7":0.41,"h8":0.36,"h9":0.31},
  {"x":2218,"h0":0.29,"h1":3.05,"h2":2.13,"h3":1.53,"h4":1.09,"h5":0.83,"h6":0.65,"h7":0.53,"h8":0.43,"h9":0.35},
  {"x":2222,"h0":0.28,"h1":3.75,"h2":2.60,"h3":1.85,"h4":1.30,"h5":0.97,"h6":0.75,"h7":0.60,"h8":0.48,"h9":0.38},
  {"x":2226,"h0":0.28,"h1":3.11,"h2":2.17,"h3":1.55,"h4":1.10,"h5":0.83,"h6":0.65,"h7":0.53,"h8":0.43,"h9":0.35},
  {"x":2230,"h0":0.25,"h1":1.91,"h2":1.35,"h3":0.99,"h4":0.73,"h5":0.57,"h6":0.47,"h7":0.39,"h8":0.34,"h9":0.29},
  {"x":2234,"h0":0.30,"h1":1.13,"h2":0.85,"h3":0.67,"h4":0.54,"h5":0.46,"h6":0.41,"h7":0.37,"h8":0.34,"h9":0.32},
  {"x":2238,"h0":0.45,"h1":0.93,"h2":0.77,"h3":0.67,"h4":0.59,"h5":0.54,"h6":0.51,"h7":0.49,"h8":0.48,"h9":0.46},
  {"x":2242,"h0":0.65,"h1":0.89,"h2":0.81,"h3":0.76,"h4":0.72,"h5":0.70,"h6":0.68,"h7":0.67,"h8":0.66,"h9":0.66},
  {"x":2246,"h0":0.89,"h1":0.99,"h2":0.96,"h3":0.94,"h4":0.92,"h5":0.91,"h6":0.90,"h7":0.90,"h8":0.89,"h9":0.89},
  {"x":2250,"h0":0.99,"h1":1.0,"h2":1.0,"h3":1.0,"h4":0.99,"h5":0.99,"h6":0.99,"h7":0.99,"h8":0.99,"h9":0.99},
  {"x":2254,"h0":0.84},{"x":2258,"h0":0.62},{"x":2262,"h0":0.40},{"x":2266,"h0":0.25},{"x":2270,"h0":0.15},{"x":2275,"h0":0.09},{"x":2280,"h0":0.07},{"x":2285,"h0":0.06},{"x":2290,"h0":0.07},{"x":2295,"h0":0.09},{"x":2300,"h0":0.11}
 ]
},
"vconcat": [
 {"vconcat": [
  {"hconcat": [
   {"width": 261, "height": 118, "title": {"text": "(a)", "offset": 3},
    "encoding": {"x": {"field": "x", "type": "quantitative", "scale": {"domain": [2060, 2300], "nice": false, "zero": false}, "axis": {"values": [2100, 2150, 2200, 2250, 2300], "format": "d", "title": "Raman Shift (cm⁻¹)"}},
                 "y": {"field": "y", "type": "quantitative", "scale": {"domain": [0, 4], "nice": false}, "axis": {"values": [0, 1, 2, 3, 4], "title": "Relative Raman Intensity"}}},
    "layer": [
     {"data": {"name": "a"}, "transform": [{"fold": ["a0","a1","a2","a3","a4","a5","a6","a7","a8","a9","a10","a11"], "as": ["k", "y"]}],
      "mark": {"type": "line", "interpolate": "monotone", "strokeWidth": 0.9},
      "encoding": {"color": {"field": "k", "type": "nominal", "legend": null, "scale": {"domain": ["a0","a1","a2","a3","a4","a5","a6","a7","a8","a9","a10","a11"], "range": ["#b4b4b4","#a9a5d3","#de4b4b","#4aa64a","#3a5fcd","#c45aae","#7a4fb0","#e88aa5","#2e9e9e","#9aa040","#3a3a9a","#6a8a5a"]}}}},
     {"data": {"values": [{"x": 2116, "y": 4.2, "t": "A"}, {"x": 2224, "y": 4.2, "t": "D"}, {"x": 2251, "y": 4.2, "t": "R"}]},
      "layer": [
       {"mark": {"type": "point", "shape": "circle", "size": 95, "filled": false, "stroke": "#e8194b", "strokeWidth": 1, "opacity": 1}},
       {"mark": {"type": "text", "color": "#e8194b", "fontSize": 8.5, "baseline": "middle", "dy": 0.5}, "encoding": {"text": {"field": "t"}}}
      ]}
    ]},
   {"width": 261, "height": 118, "title": {"text": "(b)", "offset": 3},
    "encoding": {"x": {"field": "x", "type": "quantitative", "scale": {"domain": [2060, 2300], "nice": false, "zero": false}, "axis": {"values": [2100, 2150, 2200, 2250, 2300], "format": "d", "title": "Raman Shift (cm⁻¹)"}},
                 "y": {"field": "y", "type": "quantitative", "scale": {"domain": [0, 4], "nice": false}, "axis": {"values": [0, 1, 2, 3, 4], "title": "Relative Raman Intensity"}}},
    "layer": [
     {"data": {"name": "b"}, "transform": [{"fold": ["b0","b1","b2","b3","b4","b5","b6","b7","b8"], "as": ["k", "y"]}],
      "mark": {"type": "line", "interpolate": "monotone", "strokeWidth": 1, "color": "#f6a535"},
      "encoding": {"detail": {"field": "k", "type": "nominal"}}},
     {"data": {"values": [{"x": 2112, "y": 4.2, "t": "A"}, {"x": 2182, "y": 4.2, "t": "C"}, {"x": 2223, "y": 4.2, "t": "D"}, {"x": 2250, "y": 4.2, "t": "R"}]},
      "layer": [
       {"mark": {"type": "point", "shape": "circle", "size": 95, "filled": false, "stroke": "#e8194b", "strokeWidth": 1, "opacity": 1}},
       {"mark": {"type": "text", "color": "#e8194b", "fontSize": 8.5, "baseline": "middle", "dy": 0.5}, "encoding": {"text": {"field": "t"}}}
      ]}
    ]}
  ], "spacing": 4, "resolve": {"scale": {"color": "independent"}}},
  {"hconcat": [
   {"width": 261, "height": 118, "title": {"text": "(c)", "offset": 0},
    "encoding": {"x": {"field": "x", "type": "quantitative", "scale": {"domain": [2060, 2300], "nice": false, "zero": false}, "axis": {"values": [2100, 2150, 2200, 2250, 2300], "format": "d", "title": "Raman Shift (cm⁻¹)"}},
                 "y": {"field": "y", "type": "quantitative", "scale": {"domain": [0, 4], "nice": false}, "axis": {"values": [0, 1, 2, 3, 4], "title": "Relative Raman Intensity"}}},
    "layer": [
     {"data": {"name": "c"}, "transform": [{"fold": ["c0","c1","c2","c3","c4","c5","c6","c7","c8","c9","c10"], "as": ["k", "y"]}],
      "mark": {"type": "line", "interpolate": "monotone", "strokeWidth": 1},
      "encoding": {"color": {"field": "k", "type": "nominal", "legend": null, "scale": {"domain": ["c0","c1","c2","c3","c4","c5","c6","c7","c8","c9","c10"], "range": ["#7eae1a","#d3e985","#c6e26f","#badc5c","#afd54c","#a4ce3f","#9ac734","#91bf2b","#89b824","#a0cb3c","#86b51e"]}}}},
     {"data": {"values": [{"x": 2113, "y": 4.15, "t": "A"}, {"x": 2138, "y": 4.15, "t": "B"}, {"x": 2183, "y": 4.15, "t": "C"}, {"x": 2225, "y": 4.15, "t": "D"}, {"x": 2252, "y": 4.15, "t": "R"}]},
      "layer": [
       {"mark": {"type": "point", "shape": "circle", "size": 95, "filled": false, "stroke": "#e8194b", "strokeWidth": 1, "opacity": 1}},
       {"mark": {"type": "text", "color": "#e8194b", "fontSize": 8.5, "baseline": "middle", "dy": 0.5}, "encoding": {"text": {"field": "t"}}}
      ]}
    ]},
   {"width": 261, "height": 118, "title": {"text": "(d)", "offset": 3},
    "encoding": {"x": {"field": "x", "type": "quantitative", "scale": {"domain": [2060, 2300], "nice": false, "zero": false}, "axis": {"values": [2100, 2150, 2200, 2250, 2300], "format": "d", "title": "Raman Shift (cm⁻¹)"}},
                 "y": {"field": "y", "type": "quantitative", "scale": {"domain": [0, 4], "nice": false}, "axis": {"values": [0, 1, 2, 3, 4], "title": "Relative Raman Intensity"}}},
    "layer": [
     {"data": {"name": "d"}, "transform": [{"fold": ["d1","d2","d3","d4","d5","d6","d7","d8","d9","d10","d11","d12"], "as": ["k", "y"]}],
      "mark": {"type": "line", "interpolate": "monotone", "strokeWidth": 1},
      "encoding": {"color": {"field": "k", "type": "nominal", "legend": null, "scale": {"domain": ["d1","d2","d3","d4","d5","d6","d7","d8","d9","d10","d11","d12"], "range": ["#2b2f8f","#6a5fb5","#7b2f8f","#3a4fc0","#2f6f4f","#4a2f9f","#8f2f4f","#2f5f8f","#6f3f6f","#2f2f6f","#3f7f7f","#8a8ab0"]}}}}
    ]}
  ], "spacing": 4, "resolve": {"scale": {"color": "independent"}}}
 ], "spacing": 7, "resolve": {"scale": {"color": "independent"}}},
 {"vconcat": [
  {"hconcat": [
   {"width": 261, "height": 118, "title": {"text": "(e)", "offset": -16},
    "encoding": {"x": {"field": "x", "type": "quantitative", "scale": {"domain": [2060, 2300], "nice": false, "zero": false}, "axis": {"values": [2100, 2150, 2200, 2250, 2300], "format": "d", "title": "Raman Shift (cm⁻¹)"}},
                 "y": {"field": "y", "type": "quantitative", "scale": {"domain": [0, 4], "nice": false}, "axis": {"values": [0, 1, 2, 3, 4], "title": "Relative Raman Intensity"}}},
    "layer": [
     {"data": {"name": "e"}, "transform": [{"fold": ["e0","e1","e2","e3","e4","e5","e6","e7","e8"], "as": ["k", "y"]}],
      "mark": {"type": "line", "interpolate": "monotone", "strokeWidth": 3.5, "color": "#a3bff1", "opacity": 0.6},
      "encoding": {"detail": {"field": "k", "type": "nominal"}}},
     {"data": {"name": "e"}, "transform": [{"fold": ["e0","e1","e2","e3","e4","e5","e6","e7","e8"], "as": ["k", "y"]}],
      "mark": {"type": "line", "interpolate": "monotone", "strokeWidth": 1.1, "color": "#2b5cd8"},
      "encoding": {"detail": {"field": "k", "type": "nominal"}}}
    ]},
   {"width": 261, "height": 118, "title": {"text": "(f)", "offset": -16},
    "encoding": {"x": {"field": "x", "type": "quantitative", "scale": {"domain": [2060, 2300], "nice": false, "zero": false}, "axis": {"values": [2100, 2150, 2200, 2250, 2300], "format": "d", "title": "Raman Shift (cm⁻¹)"}},
                 "y": {"field": "y", "type": "quantitative", "scale": {"domain": [0, 4], "nice": false}, "axis": {"values": [0, 1, 2, 3, 4], "title": "Relative Raman Intensity"}}},
    "layer": [
     {"data": {"name": "f"}, "transform": [{"fold": ["f0","f1","f2","f3","f4","f5","f6","f7","f8"], "as": ["k", "y"]}],
      "mark": {"type": "line", "interpolate": "monotone", "strokeWidth": 3.5, "color": "#d3ea80", "opacity": 0.7},
      "encoding": {"detail": {"field": "k", "type": "nominal"}}},
     {"data": {"name": "f"}, "transform": [{"fold": ["f0","f1","f2","f3","f4","f5","f6","f7","f8"], "as": ["k", "y"]}],
      "mark": {"type": "line", "interpolate": "monotone", "strokeWidth": 1.1, "color": "#a6cf14"},
      "encoding": {"detail": {"field": "k", "type": "nominal"}}}
    ]}
  ], "spacing": 4, "resolve": {"scale": {"color": "independent"}}},
  {"hconcat": [
   {"width": 261, "height": 118, "title": {"text": "(g)", "offset": -16},
    "encoding": {"x": {"field": "x", "type": "quantitative", "scale": {"domain": [2060, 2300], "nice": false, "zero": false}, "axis": {"values": [2100, 2150, 2200, 2250, 2300], "format": "d", "title": "Raman Shift (cm⁻¹)"}},
                 "y": {"field": "y", "type": "quantitative", "scale": {"domain": [0, 4], "nice": false}, "axis": {"values": [0, 1, 2, 3, 4], "title": "Relative Raman Intensity"}}},
    "layer": [
     {"data": {"name": "g"}, "transform": [{"fold": ["g0","g1","g2","g3","g4","g5","g6","g7","g8","g9"], "as": ["k", "y"]}],
      "mark": {"type": "line", "interpolate": "monotone", "strokeWidth": 3.5, "color": "#fbc380", "opacity": 0.7},
      "encoding": {"detail": {"field": "k", "type": "nominal"}}},
     {"data": {"name": "g"}, "transform": [{"fold": ["g0","g1","g2","g3","g4","g5","g6","g7","g8","g9"], "as": ["k", "y"]}],
      "mark": {"type": "line", "interpolate": "monotone", "strokeWidth": 1.1, "color": "#f7931e"},
      "encoding": {"detail": {"field": "k", "type": "nominal"}}}
    ]},
   {"width": 261, "height": 118, "title": {"text": "(h)", "offset": -16},
    "encoding": {"x": {"field": "x", "type": "quantitative", "scale": {"domain": [2060, 2300], "nice": false, "zero": false}, "axis": {"values": [2100, 2150, 2200, 2250, 2300], "format": "d", "title": "Raman Shift (cm⁻¹)"}},
                 "y": {"field": "y", "type": "quantitative", "scale": {"domain": [0, 4], "nice": false}, "axis": {"values": [0, 1, 2, 3, 4], "title": "Relative Raman Intensity"}}},
    "layer": [
     {"data": {"name": "h"}, "transform": [{"fold": ["h0","h1","h2","h3","h4","h5","h6","h7","h8","h9"], "as": ["k", "y"]}],
      "mark": {"type": "line", "interpolate": "monotone", "strokeWidth": 3.5, "color": "#f5a3b6", "opacity": 0.7},
      "encoding": {"detail": {"field": "k", "type": "nominal"}}},
     {"data": {"name": "h"}, "transform": [{"fold": ["h0","h1","h2","h3","h4","h5","h6","h7","h8","h9"], "as": ["k", "y"]}],
      "mark": {"type": "line", "interpolate": "monotone", "strokeWidth": 1.1, "color": "#e61e4d"},
      "encoding": {"detail": {"field": "k", "type": "nominal"}}}
    ]}
  ], "spacing": 4, "resolve": {"scale": {"color": "independent"}}}
 ], "spacing": 6, "resolve": {"scale": {"color": "independent"}}}
],
"spacing": 20,
"resolve": {"scale": {"color": "independent"}}
}
